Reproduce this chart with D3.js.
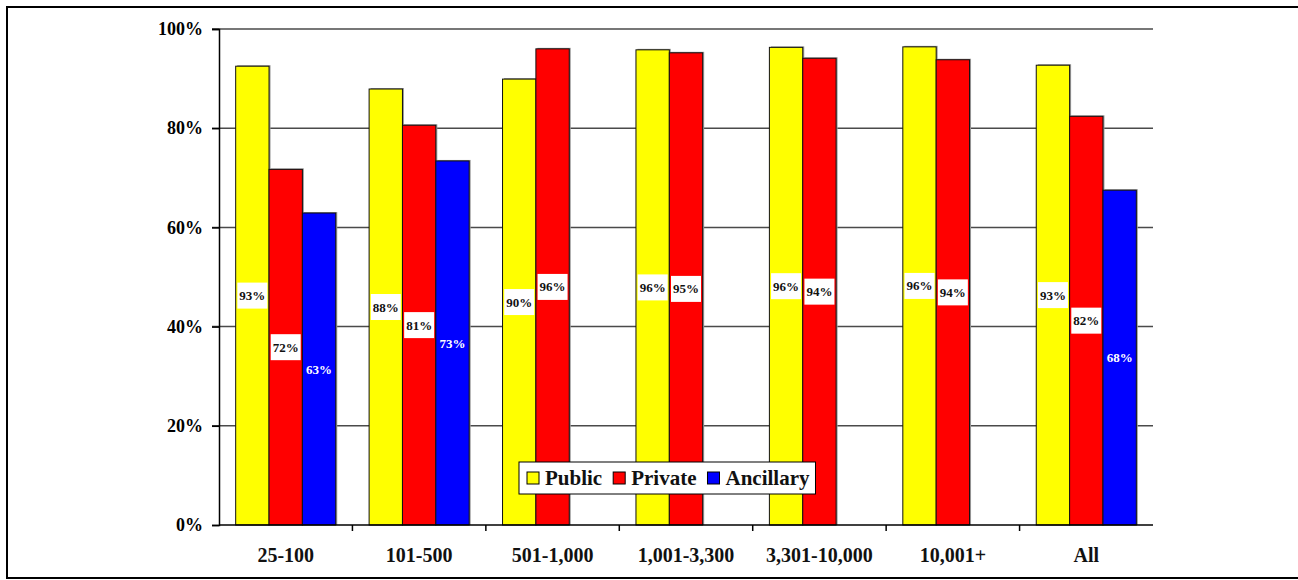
<!DOCTYPE html>
<html>
<head>
<meta charset="utf-8">
<script src="https://cdn.jsdelivr.net/npm/d3@7"></script>
<style>
  html, body { margin: 0; padding: 0; background: #fff; }
  svg { display: block; }
</style>
</head>
<body>
<svg id="chart" width="1298" height="580"></svg>
<script>
const categories = ["25-100", "101-500", "501-1,000", "1,001-3,300", "3,301-10,000", "10,001+", "All"];
const seriesNames = ["Public", "Private", "Ancillary"];
const publicValues    = [92.5, 87.9, 89.9, 95.8, 96.3, 96.4, 92.7];
const privateValues   = [71.7, 80.6, 96.0, 95.2, 94.1, 93.8, 82.4];
const ancillaryValues = [62.9, 73.4, null, null, null, null, 67.5];
const yTicks = [0, 20, 40, 60, 80, 100];
const colors = ["#FFFF00", "#FF0000", "#0000FF"];

const seriesValues = [publicValues, privateValues, ancillaryValues];
const FONT = "'Liberation Serif', 'Times New Roman', Times, 'DejaVu Serif', serif";

const svg = d3.select("#chart");
const W = 1298, H = 580;

// outer frame
svg.append("rect").attr("x", 7).attr("y", 7).attr("width", W + 10).attr("height", 571)
  .attr("fill", "none").attr("stroke", "#000").attr("stroke-width", 2);

const pLeft = 219, pRight = 1153, pTop = 29, pBottom = 525;

const x0 = d3.scaleBand().domain(categories).range([pLeft, pRight]).paddingInner(0).paddingOuter(0);
const bw = x0.bandwidth() / 4;
const x1 = d3.scaleBand().domain(seriesNames).range([bw / 2, x0.bandwidth() - bw / 2]).padding(0);
const y = d3.scaleLinear().domain([0, 100]).range([pBottom, pTop]);

// gridlines
svg.append("g").selectAll("line").data(yTicks.filter(d => d > 0)).join("line")
  .attr("x1", pLeft - 7).attr("x2", pRight)
  .attr("y1", d => y(d)).attr("y2", d => y(d))
  .attr("stroke", "#4a4a4a").attr("stroke-width", 1.5);

// y axis
const yAxis = d3.axisLeft(y).tickValues(yTicks).tickSize(7).tickPadding(9).tickFormat(d => d + "%");
const yg = svg.append("g").attr("transform", `translate(${pLeft},0)`).call(yAxis);
yg.attr("font-family", null).attr("font-size", null);
yg.select(".domain").attr("stroke", "#000").attr("stroke-width", 1.5);
yg.selectAll(".tick line").attr("stroke", "#000").attr("stroke-width", 1.5);
yg.selectAll(".tick text").style("font-family", FONT).style("font-weight", "bold")
  .style("font-size", "18px").attr("fill", "#000");

// bars
const groups = svg.append("g").selectAll("g").data(categories).join("g")
  .attr("transform", d => `translate(${x0(d)},0)`);

const barData = (c, ci) => seriesNames.map((s, si) => ({ s, si, v: seriesValues[si][ci] })).filter(d => d.v != null);

groups.each(function (c, ci) {
  const g = d3.select(this);
  const data = barData(c, ci);
  g.selectAll("rect.shadow").data(data).join("rect")
    .attr("class", "shadow")
    .attr("x", d => x1(d.s) + 1.5).attr("y", d => y(d.v) - 1)
    .attr("width", x1.bandwidth()).attr("height", d => pBottom - y(d.v) + 1)
    .attr("fill", "#999");
  g.selectAll("rect.bar").data(data).join("rect")
    .attr("class", "bar")
    .attr("x", d => x1(d.s)).attr("y", d => y(d.v))
    .attr("width", x1.bandwidth()).attr("height", d => pBottom - y(d.v))
    .attr("fill", d => colors[d.si]).attr("stroke", "#111").attr("stroke-width", 1);

  data.forEach(d => {
    const cx = x1(d.s) + x1.bandwidth() / 2;
    const cy = y(d.v / 2);
    const lbl = Math.round(d.v) + "%";
    if (d.si < 2) {
      g.append("rect").attr("x", cx - 15).attr("y", cy - 13).attr("width", 30).attr("height", 26).attr("fill", "#fff");
    }
    g.append("text").attr("x", cx).attr("y", cy).attr("dy", "0.35em").attr("text-anchor", "middle")
      .style("font-family", FONT).style("font-weight", "bold").style("font-size", "13px")
      .attr("fill", d.si < 2 ? "#111" : "#fff").text(lbl);
  });
});

// x axis
const xAxis = d3.axisBottom(x0).tickSize(0).tickPadding(0);
const xg = svg.append("g").attr("transform", `translate(0,${pBottom})`).call(xAxis);
xg.attr("font-family", null).attr("font-size", null);
xg.select(".domain").remove();
xg.selectAll(".tick text").attr("y", 37).attr("dy", 0)
  .style("font-family", FONT).style("font-weight", "bold").style("font-size", "20px").attr("fill", "#111");
svg.append("line").attr("x1", pLeft).attr("x2", pRight).attr("y1", pBottom).attr("y2", pBottom)
  .attr("stroke", "#000").attr("stroke-width", 1.5);
svg.append("g").selectAll("line").data(categories.slice(1)).join("line")
  .attr("x1", d => x0(d)).attr("x2", d => x0(d)).attr("y1", pBottom).attr("y2", pBottom + 6)
  .attr("stroke", "#000").attr("stroke-width", 1.5);

// legend
const lg = svg.append("g");
const lgBox = lg.append("rect").attr("x", 519).attr("y", 462).attr("height", 32).attr("fill", "#fff")
  .attr("stroke", "#000").attr("stroke-width", 1);
let lx = 527, lastEnd = 0;
seriesNames.forEach((s, i) => {
  lg.append("rect").attr("x", lx).attr("y", 472).attr("width", 12).attr("height", 12)
    .attr("fill", colors[i]).attr("stroke", "#000").attr("stroke-width", 1);
  const t = lg.append("text").attr("x", lx + 18).attr("y", 485)
    .style("font-family", FONT).style("font-weight", "bold").style("font-size", "21px")
    .attr("fill", "#111").text(s);
  const w = t.node().getComputedTextLength();
  lastEnd = lx + 18 + w;
  lx = lastEnd + 11;
});
lgBox.attr("width", lastEnd + 6 - 519);
</script>
</body>
</html>
